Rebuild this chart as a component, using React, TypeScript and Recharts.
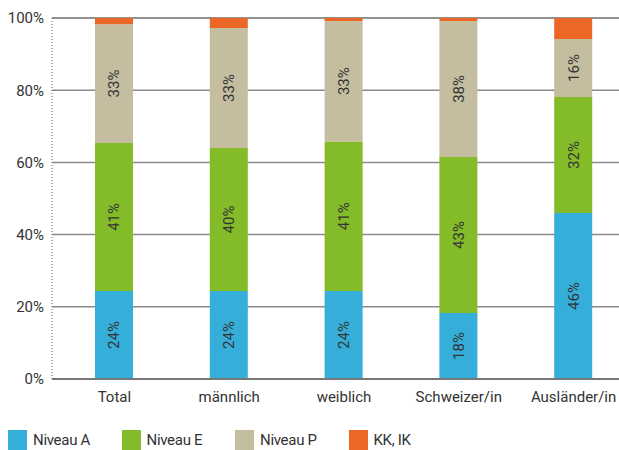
import { BarChart, Bar, XAxis, YAxis, CartesianGrid, Legend, LabelList } from 'recharts'

const categories = ['Total', 'männlich', 'weiblich', 'Schweizer/in', 'Ausländer/in']
const niveauA = [24.4, 24.4, 24.4, 18.3, 46.0]
const niveauE = [41.0, 39.6, 41.4, 43.2, 32.1]
const niveauP = [32.9, 33.2, 33.4, 37.7, 16.1]
const kkIk = [1.7, 2.8, 0.8, 0.8, 5.8]
const yTicks = [0, 20, 40, 60, 80, 100]

const series = [
  { key: 'a', name: 'Niveau A', color: '#35aed9', label: true },
  { key: 'e', name: 'Niveau E', color: '#83bb29', label: true },
  { key: 'p', name: 'Niveau P', color: '#c5bda0', label: true },
  { key: 'kk', name: 'KK, IK', color: '#ec6726', label: false },
]

const data = categories.map((c, i) => ({
  name: c,
  a: niveauA[i],
  e: niveauE[i],
  p: niveauP[i],
  kk: kkIk[i],
}))

const font = 'Roboto, "DejaVu Sans", sans-serif'

function LegendBox() {
  return (
    <div style={{ display: 'flex', paddingTop: 30, paddingLeft: 8, fontFamily: font }}>
      {series.map((s) => (
        <div key={s.key} style={{ width: 113.5, display: 'flex', alignItems: 'center' }}>
          <span style={{ width: 19, height: 20, background: s.color, display: 'inline-block' }} />
          <span style={{ marginLeft: 6, fontSize: 15, color: '#333', letterSpacing: -0.3 }}>{s.name}</span>
        </div>
      ))}
    </div>
  )
}

export default function App() {
  return (
    <div style={{ position: 'absolute', left: 0, top: 0, width: 619, height: 450, overflow: 'hidden', background: '#fff' }}>
      <BarChart
        width={640}
        height={450}
        data={data}
        margin={{ top: 18, right: 9, bottom: 0, left: 0 }}
        barSize={38}
      >
        <CartesianGrid vertical={false} stroke="#8a8a8a" strokeWidth={1.5} />
        <XAxis
          dataKey="name"
          height={21}
          tickLine={false}
          axisLine={{ stroke: '#777', strokeWidth: 2 }}
          tick={{ fontSize: 15, fill: '#333', fontFamily: font }}
          tickMargin={6}
          padding={{ left: 5, right: 0 }}
          interval={0}
        />
        <YAxis
          width={52}
          domain={[0, 100]}
          ticks={yTicks}
          tickFormatter={(v) => `${v}%`}
          tickLine={false}
          tickSize={0}
          tickMargin={8}
          axisLine={{ stroke: '#666', strokeDasharray: '1 2' }}
          tick={{ fontSize: 15, fill: '#333', fontFamily: font }}
        />
        <Legend verticalAlign="bottom" height={50} wrapperStyle={{ left: 0, width: 619 }} content={<LegendBox />} />
        {series.map((s) => (
          <Bar key={s.key} dataKey={s.key} name={s.name} stackId="x" fill={s.color} isAnimationActive={false}>
            {s.label && (
              <LabelList
                dataKey={s.key}
                position="center"
                angle={-90}
                formatter={(v: number) => `${Math.round(v)}%`}
                style={{ fontSize: 15, fill: '#333', fontFamily: font }}
              />
            )}
          </Bar>
        ))}
      </BarChart>
    </div>
  )
}
